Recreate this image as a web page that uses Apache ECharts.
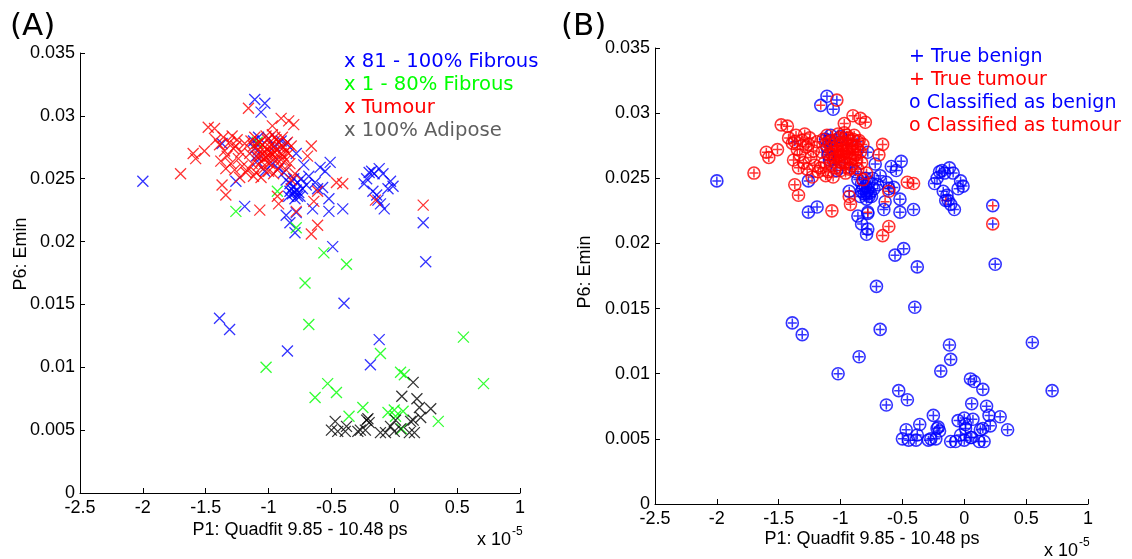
<!DOCTYPE html>
<html>
<head>
<meta charset="utf-8">
<script src="https://cdn.jsdelivr.net/npm/echarts@6/dist/echarts.min.js"></script>
<style>html,body{margin:0;padding:0;background:#fff;}#c{width:1132px;height:559px;}</style>
</head>
<body>
<div id="c"></div>
<script>
// x values in units of 1e-5
const xTicks = [-2.5, -2, -1.5, -1, -0.5, 0, 0.5, 1];
const yTicks = [0, 0.005, 0.01, 0.015, 0.02, 0.025, 0.03, 0.035];

const fibrous81 = [
  [-2.0,0.0248],[-1.11,0.0313],[-1.03,0.0310],[-1.06,0.0303],[-1.26,0.0248],[-1.19,0.0228],[-1.03,0.0256],
  [-1.37,0.0278],[-1.12,0.0280],[-1.08,0.0283],[-1.0,0.0282],[-0.95,0.0276],[-0.90,0.0280],[-0.86,0.0278],
  [-1.10,0.0268],[-0.97,0.0262],[-0.92,0.0258],[-0.88,0.0255],[-1.11,0.0274],[-1.09,0.0264],
  [-0.86,0.0249],[-0.83,0.0246],[-0.80,0.0244],[-0.78,0.0241],[-0.76,0.0239],[-0.81,0.0238],[-0.84,0.0236],
  [-0.79,0.0234],[-0.75,0.0236],[-0.73,0.0242],[-0.77,0.0247],[-0.82,0.0242],[-0.74,0.0250],[-0.70,0.0245],[-0.80,0.0250],
  [-0.79,0.0239],[-0.77,0.0236],[-0.83,0.0240],
  [-0.72,0.0261],[-0.78,0.0270],[-0.59,0.0259],[-0.51,0.0263],[-0.55,0.0256],[-0.63,0.0247],[-0.61,0.0242],
  [-0.52,0.0234],[-0.41,0.0226],[-0.52,0.0224],[-0.65,0.0226],[-0.78,0.0223],[-0.86,0.0221],[-0.83,0.0215],
  [-0.79,0.0207],[-0.49,0.0196],[-0.57,0.0243],[-0.68,0.0252],
  [-0.22,0.0250],[-0.18,0.0256],[-0.12,0.0258],[-0.16,0.0254],[-0.09,0.0254],[-0.03,0.0248],[-0.01,0.0244],
  [-0.24,0.0246],[-0.20,0.0255],[-0.14,0.0237],[-0.11,0.0230],[-0.08,0.0226],[-0.17,0.0240],[-0.05,0.0242],[-0.13,0.0233],
  [0.23,0.0215],[0.25,0.0184],
  [-1.39,0.0139],[-1.31,0.0130],[-0.85,0.0113],[-0.40,0.0151],[-0.12,0.0122],[-0.19,0.0102]
];
const fibrous1to80 = [
  [-1.26,0.0224],[-0.93,0.0240],[-0.78,0.0211],[-1.09,0.0279],[-0.56,0.0191],[-0.38,0.0182],[-0.71,0.0167],
  [-0.68,0.0134],[-1.02,0.0100],[-0.53,0.0087],[-0.46,0.0080],[-0.63,0.0076],[-0.36,0.0061],[-0.25,0.0068],
  [-0.11,0.0111],[0.05,0.0096],[0.08,0.0094],[-0.05,0.0064],[0.01,0.0061],[0.07,0.0065],[0.06,0.0051],
  [0.35,0.0057],[0.55,0.0124],[0.71,0.0087],[0.00,0.0066]
];
const tumour = [
  [-1.70,0.0254],[-1.60,0.0270],[-1.58,0.0266],[-1.51,0.0272],[-1.48,0.0291],[-1.43,0.0290],[-1.16,0.0306],
  [-0.97,0.0292],[-0.90,0.0298],[-0.84,0.0296],[-0.80,0.0293],[-0.66,0.0276],[-0.46,0.0247],[-0.41,0.0246],
  [-1.37,0.0245],[-1.34,0.0237],[-1.07,0.0225],[-0.92,0.0230],[-0.93,0.0236],[-0.78,0.0224],[-0.66,0.0206],
  [-0.61,0.0213],[-0.64,0.0232],[-0.15,0.0233],[0.23,0.0229],[-0.79,0.0254],[-0.82,0.0249],[-0.69,0.0268],[-0.61,0.0240],
  [-1.42,0.0281],[-1.39,0.0277],[-1.36,0.0283],[-1.35,0.0272],[-1.33,0.0268],[-1.31,0.0279],[-1.30,0.0262],
  [-1.28,0.0274],[-1.27,0.0257],[-1.25,0.0281],[-1.24,0.0266],[-1.22,0.0271],[-1.21,0.0260],[-1.38,0.0264],
  [-1.34,0.0258],[-1.29,0.0284],[-1.26,0.0276],[-1.23,0.0251],[-1.19,0.0278],[-1.18,0.0255],
  [-1.15,0.0270],[-1.13,0.0262],[-1.12,0.0276],[-1.10,0.0255],[-1.09,0.0268],[-1.08,0.0273],[-1.07,0.0279],
  [-1.06,0.0264],[-1.05,0.0270],[-1.04,0.0258],[-1.03,0.0275],[-1.02,0.0267],[-1.01,0.0281],[-1.00,0.0272],
  [-0.99,0.0262],[-0.98,0.0277],[-0.97,0.0269],[-0.96,0.0254],[-0.95,0.0283],[-0.94,0.0273],[-0.93,0.0265],
  [-0.92,0.0279],[-0.91,0.0260],[-0.90,0.0270],[-0.89,0.0283],[-0.88,0.0275],[-0.87,0.0264],[-0.86,0.0257],
  [-0.85,0.0279],[-0.84,0.0270],[-0.83,0.0262],[-1.11,0.0283],[-1.14,0.0280],[-1.06,0.0251],[-1.00,0.0256],
  [-0.96,0.0266],[-1.04,0.0266],[-0.98,0.0271],[-1.08,0.0261],[-0.93,0.0257],[-1.12,0.0252],[-1.16,0.0258],
  [-1.02,0.0284],[-0.97,0.0285],[-1.05,0.0277],[-0.91,0.0275],[-0.88,0.0268],[-0.94,0.0281],[-1.01,0.0263],[-1.09,0.0278],
  [-1.00,0.0268],[-0.95,0.0271],[-1.03,0.0271],[-0.99,0.0275],[-0.90,0.0265],[-1.07,0.0268],[-0.86,0.0272],[-0.82,0.0276]
];
const adipose = [
  [-0.47,0.0057],[-0.50,0.0050],[-0.45,0.0049],[-0.39,0.0049],[-0.38,0.0053],[-0.29,0.0049],[-0.27,0.0050],
  [-0.22,0.0058],[-0.20,0.0056],[-0.21,0.0059],[-0.23,0.0050],[-0.11,0.0048],[-0.07,0.0048],[-0.03,0.0053],
  [0.00,0.0049],[0.05,0.0051],[0.01,0.0058],[0.12,0.0048],[0.16,0.0048],[0.13,0.0057],[0.15,0.0058],
  [0.21,0.0060],[0.29,0.0067],[0.20,0.0068],[0.18,0.0075],[0.06,0.0077],[0.15,0.0088]
];
// points whose classification differs from the true label (panel B)
const tumourClassifiedBenign = [[-0.15,0.0233],[-0.78,0.0224],[0.23,0.0229],[-0.64,0.0232],[-1.16,0.0306]];
const benignClassifiedTumour = [[-1.03,0.0310],[-1.37,0.0278],[-0.95,0.0276],[-0.90,0.0280],
  [-0.86,0.0278],[-0.97,0.0262],[-0.92,0.0258],[0.23,0.0215]];

const legendA = [
  {text:'x 81 - 100% Fibrous', color:'#0000ff'},
  {text:'x 1 - 80% Fibrous', color:'#00ff00'},
  {text:'x Tumour', color:'#ff0000'},
  {text:'x 100% Adipose', color:'#5f5f5f'}
];
const legendB = [
  {text:'+ True benign', color:'#0000ff'},
  {text:'+ True tumour', color:'#ff0000'},
  {text:'o Classified as benign', color:'#0000ff'},
  {text:'o Classified as tumour', color:'#ff0000'}
];

const key = p => p[0] + ',' + p[1];
const misT = new Set(tumourClassifiedBenign.map(key));
const misB = new Set(benignClassifiedTumour.map(key));
const trueBenign = fibrous81.concat(fibrous1to80, adipose);
const trueTumour = tumour;
const classBenign = trueBenign.filter(p => !misB.has(key(p))).concat(trueTumour.filter(p => misT.has(key(p))));
const classTumour = trueTumour.filter(p => !misT.has(key(p))).concat(trueBenign.filter(p => misB.has(key(p))));

const X_SYM = 'path://M0,0L10,10M10,0L0,10';
const P_SYM = 'path://M5,0L5,10M0,5L10,5';
const FONT = 'Liberation Sans, Arial, sans-serif';

function xAxis(gi) {
  return {
    gridIndex: gi, type: 'value', min: -2.5, max: 1, interval: 0.5,
    axisLine: {onZero: false, lineStyle: {color: '#000', width: 1}},
    axisTick: {inside: true, length: 5, lineStyle: {color: '#000'}},
    axisLabel: {color: '#000', fontSize: 18, fontFamily: FONT, margin: 6},
    splitLine: {show: false}
  };
}
function yAxis(gi) {
  return {
    gridIndex: gi, type: 'value', min: 0, max: 0.035, interval: 0.005,
    axisLine: {show: true, onZero: false, lineStyle: {color: '#000', width: 1}},
    axisTick: {show: true, inside: true, length: 5, lineStyle: {color: '#000'}},
    axisLabel: {color: '#000', fontSize: 18, fontFamily: FONT, margin: 5,
      formatter: v => (Math.round(v * 1000) / 1000).toString()},
    splitLine: {show: false}
  };
}
function xSeries(data, color) {
  return {type: 'scatter', xAxisIndex: 0, yAxisIndex: 0, data: data, symbol: X_SYM, symbolSize: 11,
    itemStyle: {color: 'none', borderColor: color, borderWidth: 1.3}, silent: true, animation: false};
}
function plusSeries(data, color) {
  return {type: 'scatter', xAxisIndex: 1, yAxisIndex: 1, data: data, symbol: P_SYM, symbolSize: 9,
    itemStyle: {color: 'none', borderColor: color, borderWidth: 1.5}, silent: true, animation: false};
}
function circSeries(data, color) {
  return {type: 'scatter', xAxisIndex: 1, yAxisIndex: 1, data: data, symbol: 'circle', symbolSize: 12,
    itemStyle: {color: 'none', borderColor: color, borderWidth: 1.6}, silent: true, animation: false};
}

function txt(text, x, y, size, color, opts) {
  return Object.assign({type: 'text', x: x, y: y, silent: true,
    style: Object.assign({text: text, fill: color || '#000', font: size + 'px ' + FONT,
      textAlign: 'center', textVerticalAlign: 'middle'}, (opts && opts.style) || {})},
    (opts && opts.el) || {});
}

const graphics = [];
legendA.forEach((l, i) => graphics.push(txt(l.text, 344, 62 + i * 23, 19, l.color,
  {style: {textAlign: 'left', font: '19.6px DejaVu Sans'}})));
legendB.forEach((l, i) => graphics.push(txt(l.text, 909, 57 + i * 23, 19, l.color,
  {style: {textAlign: 'left', font: '19px DejaVu Sans'}})));
graphics.push(txt('(A)', 10, 27, 30, '#000', {style: {textAlign: 'left', font: '31px DejaVu Sans'}}));
graphics.push(txt('(B)', 561, 27, 30, '#000', {style: {textAlign: 'left', font: '31px DejaVu Sans'}}));
graphics.push(txt('P1: Quadfit 9.85 - 10.48 ps', 300, 530, 18, '#000'));
graphics.push(txt('P1: Quadfit 9.85 - 10.48 ps', 872, 539, 18, '#000'));
graphics.push(txt('P6: Emin', 21, 254, 18, '#000', {el: {rotation: Math.PI / 2}}));
graphics.push(txt('P6: Emin', 585, 272, 18, '#000', {el: {rotation: Math.PI / 2}}));
graphics.push(txt('x 10', 511, 540, 18, '#000', {style: {textAlign: 'right'}}));
graphics.push(txt('-5', 512, 532, 12, '#000', {style: {textAlign: 'left'}}));
graphics.push(txt('x 10', 1078, 551, 18, '#000', {style: {textAlign: 'right'}}));
graphics.push(txt('-5', 1079, 543, 12, '#000', {style: {textAlign: 'left'}}));

const chart = echarts.init(document.getElementById('c'), null, {renderer: 'canvas'});
chart.setOption({
  backgroundColor: '#fff',
  animation: false,
  grid: [
    {left: 80, top: 53, width: 440, height: 440},
    {left: 655, top: 48, width: 433, height: 456}
  ],
  xAxis: [xAxis(0), xAxis(1)],
  yAxis: [yAxis(0), yAxis(1)],
  series: [
    xSeries(fibrous81, '#0000ff'),
    xSeries(fibrous1to80, '#00ff00'),
    xSeries(tumour, '#ff0000'),
    xSeries(adipose, '#000000'),
    plusSeries(trueBenign, '#0000ff'),
    plusSeries(trueTumour, '#ff0000'),
    circSeries(classBenign, '#0000ff'),
    circSeries(classTumour, '#ff0000')
  ],
  graphic: graphics
});
</script>
</body>
</html>
